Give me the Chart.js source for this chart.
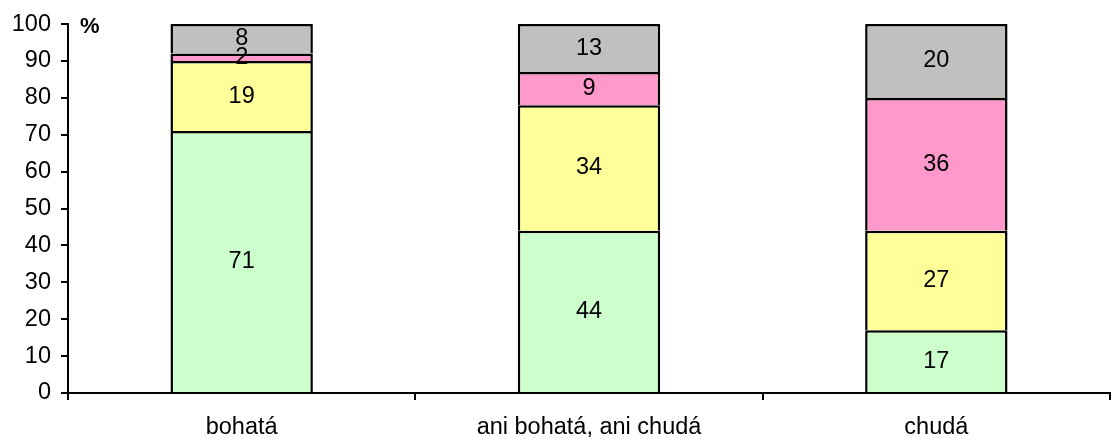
<!DOCTYPE html>
<html>
<head>
<meta charset="utf-8">
<script src="https://cdn.jsdelivr.net/npm/chart.js@4/dist/chart.umd.min.js"></script>
<style>
  html, body { margin: 0; padding: 0; background: #fff; }
  #wrap { width: 1111px; height: 439px; }
</style>
</head>
<body>
<div id="wrap"><canvas id="chart"></canvas></div>
<script>
const categories = ['bohatá', 'ani bohatá, ani chudá', 'chudá'];
const greenValues = [71, 44, 17];
const yellowValues = [19, 34, 27];
const pinkValues = [2, 9, 36];
const greyValues = [8, 13, 20];
const yTicks = [0, 10, 20, 30, 40, 50, 60, 70, 80, 90, 100];

const font = { family: '"Liberation Sans", Arial, sans-serif', size: 23.5 };

// writes each segment's value in its middle
const segmentLabels = {
  id: 'segmentLabels',
  afterDatasetsDraw(chart) {
    const ctx = chart.ctx;
    ctx.save();
    ctx.font = font.size + 'px ' + font.family;
    ctx.fillStyle = '#000';
    ctx.textAlign = 'center';
    ctx.textBaseline = 'middle';
    chart.data.datasets.forEach((ds, i) => {
      chart.getDatasetMeta(i).data.forEach((bar, j) => {
        const mid = (bar.y + bar.base) / 2;
        ctx.fillText(String(ds.data[j]), bar.x, mid);
      });
    });
    ctx.restore();
  }
};

const unitLabel = {
  id: 'unitLabel',
  afterDraw(chart) {
    const ctx = chart.ctx;
    ctx.save();
    ctx.font = 'bold 22px ' + font.family;
    ctx.fillStyle = '#000';
    ctx.textBaseline = 'middle';
    ctx.fillText('%', chart.chartArea.left + 12, chart.chartArea.top + 3);
    ctx.restore();
  }
};

function segment(data, color) {
  return {
    data: data,
    backgroundColor: color,
    borderColor: '#000',
    borderWidth: 2.5,
    borderSkipped: 'bottom',
    inflateAmount: 0,
    barPercentage: 0.41,
    categoryPercentage: 1
  };
}

new Chart(document.getElementById('chart'), {
  type: 'bar',
  data: {
    labels: categories,
    datasets: [
      segment(greenValues, '#CCFFCC'),
      segment(yellowValues, '#FFFF99'),
      segment(pinkValues, '#FF99CC'),
      segment(greyValues, '#C0C0C0')
    ]
  },
  options: {
    responsive: true,
    maintainAspectRatio: false,
    animation: false,
    layout: { padding: { top: 24, right: 1, left: 0, bottom: 0 } },
    plugins: {
      legend: { display: false },
      tooltip: { enabled: false }
    },
    scales: {
      x: {
        stacked: true,
        afterFit(scale) { scale.height = 46; },
        border: { color: '#000', width: 2 },
        grid: { offset: true, drawOnChartArea: false, color: '#000', lineWidth: 2, tickLength: 7 },
        ticks: { color: '#000', font: font, padding: 13 }
      },
      y: {
        stacked: true,
        min: 0,
        max: 100,
        afterFit(scale) { scale.width = 68; },
        afterBuildTicks(scale) { scale.ticks = yTicks.map(v => ({ value: v })); },
        border: { color: '#000', width: 2 },
        grid: { drawOnChartArea: false, color: '#000', lineWidth: 2, tickLength: 7 },
        ticks: { color: '#000', font: font, padding: 10 }
      }
    }
  },
  plugins: [segmentLabels, unitLabel]
});
</script>
</body>
</html>
